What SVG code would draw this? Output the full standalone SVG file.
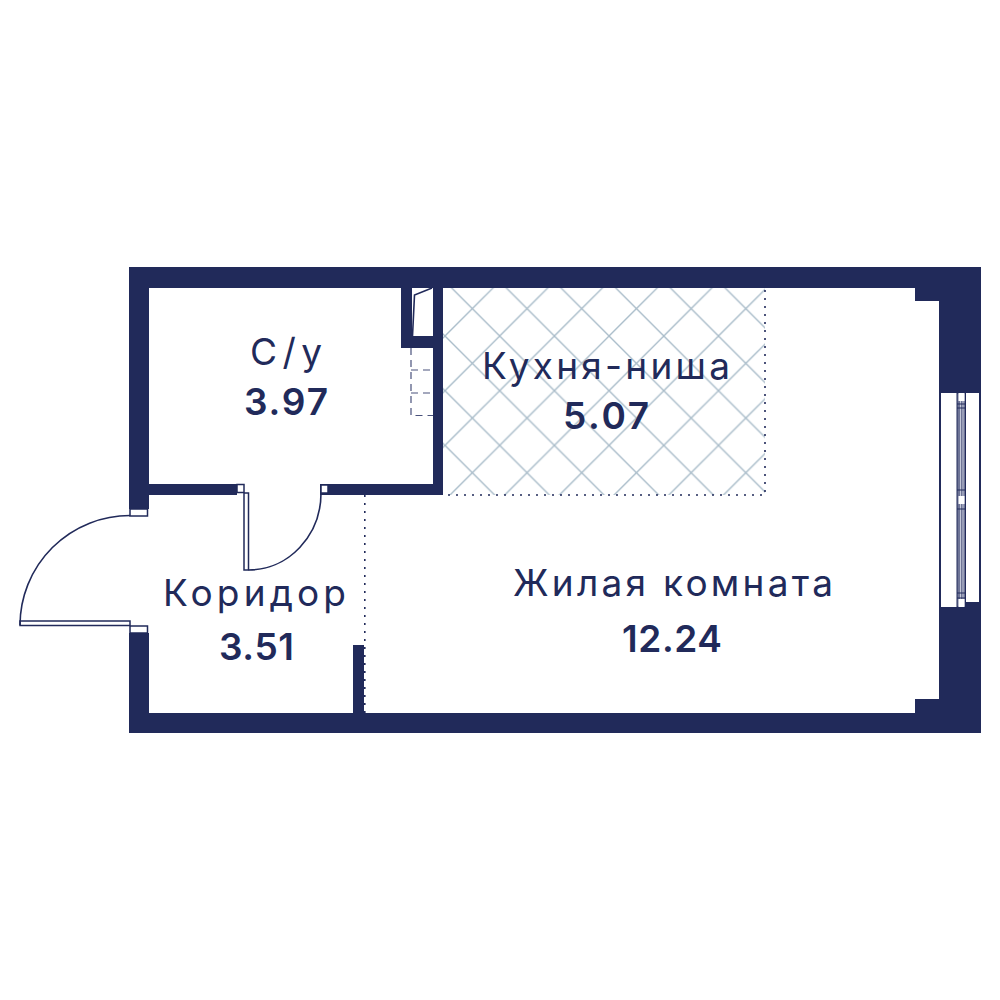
<svg xmlns="http://www.w3.org/2000/svg" width="1000" height="1000" viewBox="0 0 1000 1000">
<style>
.wall{fill:#212a5a}
.white{fill:#fff}
.box{fill:#fff;stroke:#212a5a;stroke-width:1.5}
.thin{fill:none;stroke:#212a5a;stroke-width:1.6}
.dot{fill:none;stroke:#212a5a;stroke-width:1.6;stroke-dasharray:2 6}
.dash{fill:none;stroke:#4a527c;stroke-width:1.2;stroke-dasharray:7 5}
.hl{stroke:#a9bcc9;stroke-width:1.4;fill:none}
text{font-family:Inter,"Noto Sans","Liberation Sans",sans-serif;fill:#212a5a;font-size:37px;text-anchor:start}
.num{font-weight:600}
</style>
<defs>
<pattern id="hatch" patternUnits="userSpaceOnUse" x="445" y="336" width="54.7" height="54.7">
<path class="hl" d="M0 0L54.7 54.7M54.7 0L0 54.7"/>
</pattern>
</defs>
<rect id="kitchen-hatch" x="443" y="288" width="322" height="207" fill="url(#hatch)"/>
<g id="walls">
<path class="wall" d="M129 267H981V398H979V393H939V301H915V288H149V484H237V495H149V509H129Z"/>
<path class="wall" d="M320 484H433V348H401V288H412V336H433V288H443V495H320Z"/>
<path class="wall" d="M129 633H149V713H353V645H364V713H915V699H939V607H958V607H966V602H981V733H129Z"/>
<rect class="wall" x="939" y="393" width="2" height="214"/>
<rect class="wall" x="979" y="393" width="2" height="214"/>
</g>
<g id="shaft">
<path class="thin" d="M412.500 336L414.500 295L432 288"/>
</g>
<g id="dashed-fixture">
<path class="dash" d="M411 348V415.500H433M411 370H433M411 393H433"/>
</g>
<g id="dotted-lines">
<path class="dot" d="M765 290V495H443"/>
<path class="dot" d="M364.800 495V713"/>
</g>
<g id="door-entry">
<rect class="box" x="130" y="509" width="17.500" height="7"/>
<rect class="box" x="130" y="626" width="17.500" height="7"/>
<rect class="box" x="20" y="621" width="110" height="4.500"/>
<path class="thin" d="M130 515.500A110 110 0 0 0 20 625"/>
</g>
<g id="door-bath">
<rect class="box" x="237" y="484.500" width="7" height="8"/>
<rect class="box" x="321" y="485" width="7" height="8"/>
<rect class="box" x="244" y="493" width="4.500" height="77"/>
<path class="thin" d="M248.500 570A72.500 77 0 0 0 321 493"/>
</g>
<g id="window">
<rect x="957" y="393" width="8.500" height="214" fill="#6e7496" stroke="#212a5a" stroke-width="1"/>
<path fill="none" stroke="#c4c8d8" stroke-width="1" d="M960.500 400V600M963 400V600"/>
<path fill="none" stroke="#212a5a" stroke-width="1" d="M957 404H965.500M957 408H965.500M957 490H965.500M957 509H965.500M957 593H965.500M957 598H965.500"/>
<rect class="white" x="958.500" y="393" width="6" height="8"/>
<rect class="white" x="958.500" y="496" width="6" height="8"/>
<rect class="white" x="958.500" y="599" width="6" height="8"/>
</g>
<g id="room-bath">
<text x="250" y="365" textLength="72" lengthAdjust="spacing">С/у</text>
<text class="num" x="244" y="415" textLength="84" lengthAdjust="spacing">3.97</text>
</g>
<g id="room-kitchen">
<text x="482" y="379" textLength="248" lengthAdjust="spacing">Кухня-ниша</text>
<text class="num" x="563" y="429" textLength="86" lengthAdjust="spacing">5.07</text>
</g>
<g id="room-corridor">
<text x="163" y="606" textLength="183" lengthAdjust="spacing">Коридор</text>
<text class="num" x="219" y="660" textLength="75" lengthAdjust="spacing">3.51</text>
</g>
<g id="room-living">
<text x="513" y="596" textLength="320" lengthAdjust="spacing">Жилая комната</text>
<text class="num" x="622" y="652" textLength="100" lengthAdjust="spacing">12.24</text>
</g>
</svg>
